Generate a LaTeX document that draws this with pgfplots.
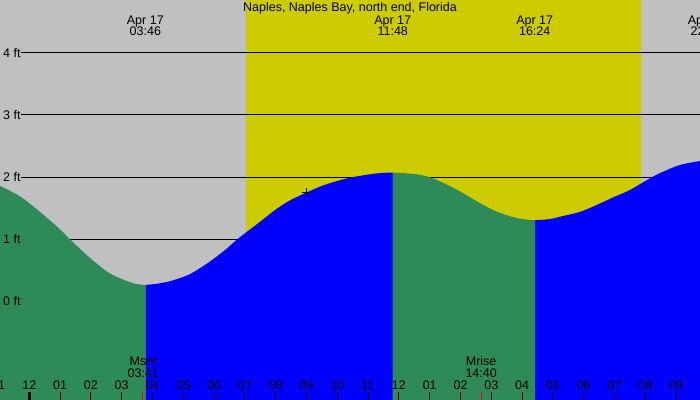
\documentclass[border=0pt]{standalone}
\usepackage{pgfplots}
\pgfplotsset{compat=1.18}
\usepgfplotslibrary{fillbetween}
\usepackage{fontspec}
\setmainfont{Liberation Sans}
\definecolor{nightgray}{HTML}{C0C0C0}
\definecolor{dayyellow}{HTML}{CCCC00}
\definecolor{ebbgreen}{HTML}{2E8B57}
\definecolor{floodblue}{HTML}{0000FF}
\begin{document}
\begin{tikzpicture}[every node/.style={font=\fontsize{12.5}{14}\selectfont, inner sep=0pt}]
\begin{axis}[
  width=700pt, height=400pt, scale only axis,
  xmin=-0.951, xmax=21.776, ymin=-1.584, ymax=4.847,
  axis line style={draw=none},
  axis background/.style={fill=nightgray},
  axis on top,
  ytick=\empty,
  xtick={1,2,3,4,5,6,7,8,9,10,11,12,13,14,15,16,17,18,19,20,21},
  xticklabels={},
  xtick pos=left,
  tick align=inside,
  major tick length=8pt,
  major tick style={black, line width=1pt},
  extra x ticks={0}, extra x tick labels={},
  extra x tick style={major tick style={black, line width=2.7pt}},
]
\coordinate (SW) at (rel axis cs:0,0);
\coordinate (NE) at (rel axis cs:1,1);
% daylight band
\addplot[fill=dayyellow, draw=none, on layer=pre main] coordinates {(7.036,-1.584) (7.036,4.847) (19.85,4.847) (19.85,-1.584)} -- cycle;
% grid lines
\addplot[black, line width=0.9pt, on layer=pre main] coordinates {(-0.279,1) (21.776,1)};
\addplot[black, line width=0.9pt, on layer=pre main] coordinates {(-0.279,2) (21.776,2)};
\addplot[black, line width=0.9pt, on layer=pre main] coordinates {(-0.279,3) (21.776,3)};
\addplot[black, line width=0.9pt, on layer=pre main] coordinates {(-0.279,4) (21.776,4)};
% tide curve segments
\addplot[draw=none, smooth, name path=s1] coordinates {(-0.951,1.857) (-0.302,1.69) (0.347,1.44) (0.997,1.16) (1.321,1.00) (1.971,0.70) (2.620,0.45) (3.269,0.31) (3.5,0.28) (3.78,0.265)};
\addplot[draw=none, name path=b1] coordinates {(-0.951,-1.584) (3.78,-1.584)};
\addplot[draw=none, smooth, name path=s2] coordinates {(3.767,0.265) (4.237,0.292) (4.666,0.34) (5.218,0.44) (5.769,0.61) (6.289,0.80) (6.744,0.995) (7.036,1.11) (7.490,1.28) (7.977,1.47) (8.464,1.625) (9.016,1.755) (9.536,1.865) (10.088,1.95) (10.510,2.0) (11.062,2.045) (11.5,2.068) (11.82,2.072)};
\addplot[draw=none, name path=b2] coordinates {(3.767,-1.584) (11.82,-1.584)};
\addplot[draw=none, smooth, name path=s3] coordinates {(11.8,2.072) (12.468,2.05) (13.010,1.997) (13.552,1.88) (14.091,1.74) (14.633,1.58) (15.175,1.445) (15.714,1.355) (16.0,1.325) (16.42,1.305)};
\addplot[draw=none, name path=b3] coordinates {(11.8,-1.584) (16.42,-1.584)};
\addplot[draw=none, smooth, name path=s4] coordinates {(16.4,1.305) (16.9,1.325) (17.338,1.375) (17.88,1.44) (18.416,1.55) (18.95,1.672) (19.503,1.793) (20.208,1.997) (20.584,2.087) (21.126,2.195) (21.776,2.259)};
\addplot[draw=none, name path=b4] coordinates {(16.4,-1.584) (21.776,-1.584)};
\addplot[fill=floodblue, draw=none] fill between[of=s2 and b2];
\addplot[fill=floodblue, draw=none] fill between[of=s4 and b4];
\addplot[fill=ebbgreen, draw=none] fill between[of=s1 and b1];
\addplot[fill=ebbgreen, draw=none] fill between[of=s3 and b3];
% current time marker
\addplot[only marks, mark=+, mark size=4.5pt, mark options={black, line width=1pt}] coordinates {(9.0,1.757)};
% moon set / rise ticks
\addplot[red, line width=1pt] coordinates {(3.683,-1.584) (3.683,-1.455)};
\addplot[red, line width=1pt] coordinates {(14.667,-1.584) (14.667,-1.455)};
% title
\node[anchor=base] at (axis cs:10.412,4.659) {Naples, Naples Bay, north end, Florida};
% extremes
\node[anchor=base] at (axis cs:3.767,4.461) {Apr 17};
\node[anchor=base] at (axis cs:3.767,4.277) {03:46};
\node[anchor=base] at (axis cs:11.8,4.461) {Apr 17};
\node[anchor=base] at (axis cs:11.8,4.277) {11:48};
\node[anchor=base] at (axis cs:16.41,4.461) {Apr 17};
\node[anchor=base] at (axis cs:16.41,4.277) {16:24};
\node[anchor=base] at (axis cs:21.98,4.461) {Apr 17};
\node[anchor=base] at (axis cs:21.98,4.277) {22:00};
% y labels
\node[anchor=west] at (axis cs:-0.854,0) {0 ft};
\node[anchor=west] at (axis cs:-0.854,1) {1 ft};
\node[anchor=west] at (axis cs:-0.854,2) {2 ft};
\node[anchor=west] at (axis cs:-0.854,3) {3 ft};
\node[anchor=west] at (axis cs:-0.854,4) {4 ft};
% moon
\node[anchor=base] at (axis cs:3.70,-1.035) {Mset};
\node[anchor=base] at (axis cs:3.70,-1.222) {03:41};
\node[anchor=base] at (axis cs:14.67,-1.035) {Mrise};
\node[anchor=base] at (axis cs:14.67,-1.222) {14:40};
% hour labels
\node[anchor=base] at (axis cs:-1,-1.423) {11};
\node[anchor=base] at (axis cs:0,-1.423) {12};
\node[anchor=base] at (axis cs:1,-1.423) {01};
\node[anchor=base] at (axis cs:2,-1.423) {02};
\node[anchor=base] at (axis cs:3,-1.423) {03};
\node[anchor=base] at (axis cs:4,-1.423) {04};
\node[anchor=base] at (axis cs:5,-1.423) {05};
\node[anchor=base] at (axis cs:6,-1.423) {06};
\node[anchor=base] at (axis cs:7,-1.423) {07};
\node[anchor=base] at (axis cs:8,-1.423) {08};
\node[anchor=base] at (axis cs:9,-1.423) {09};
\node[anchor=base] at (axis cs:10,-1.423) {10};
\node[anchor=base] at (axis cs:11,-1.423) {11};
\node[anchor=base] at (axis cs:12,-1.423) {12};
\node[anchor=base] at (axis cs:13,-1.423) {01};
\node[anchor=base] at (axis cs:14,-1.423) {02};
\node[anchor=base] at (axis cs:15,-1.423) {03};
\node[anchor=base] at (axis cs:16,-1.423) {04};
\node[anchor=base] at (axis cs:17,-1.423) {05};
\node[anchor=base] at (axis cs:18,-1.423) {06};
\node[anchor=base] at (axis cs:19,-1.423) {07};
\node[anchor=base] at (axis cs:20,-1.423) {08};
\node[anchor=base] at (axis cs:21,-1.423) {09};
\end{axis}
\pgfresetboundingbox
\path[use as bounding box] (SW) rectangle (NE);
\end{tikzpicture}
\end{document}
